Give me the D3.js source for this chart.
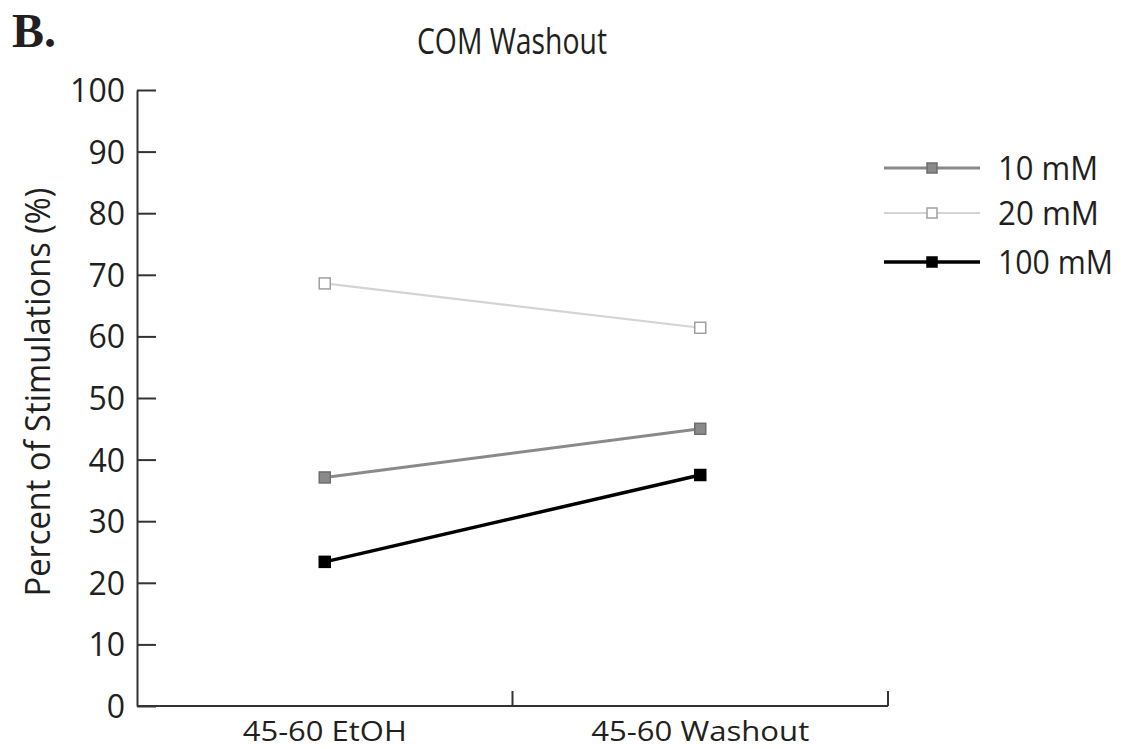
<!DOCTYPE html>
<html><head><meta charset="utf-8">
<script src="https://cdn.jsdelivr.net/npm/d3@7"></script>
<style>body{margin:0;background:#fff}svg{display:block}text{font-family:"Open Sans",sans-serif;fill:#231f20}</style>
</head><body>
<svg id="c" width="1122" height="749"></svg>
<script>
const categories = ["45-60 EtOH", "45-60 Washout"];
const seriesNames = ["10 mM", "20 mM", "100 mM"];
const values10 = [37.1, 45.0];
const values20 = [68.6, 61.4];
const values100 = [23.4, 37.5];
const yTicks = [0, 10, 20, 30, 40, 50, 60, 70, 80, 90, 100];

const styles = [
  {line:"#8a8a8a", fill:"#8a8a8a", stroke:"#6e6e6e", w:3},
  {line:"#d4d4d4", fill:"#ffffff", stroke:"#a0a0a0", w:2.2},
  {line:"#000000", fill:"#000000", stroke:"#000000", w:3.5}
];
const series = [values10, values20, values100];

const svg = d3.select("#c");
const x0 = 137, x1 = 888, yTop = 90, yBot = 706;
const x = d3.scalePoint().domain(categories).range([x0, x1]).padding(0.5);
const y = d3.scaleLinear().domain([0, 100]).range([yBot, yTop]);

// y axis
const ya = svg.append("g").attr("transform", `translate(${x0},0)`)
  .call(d3.axisLeft(y).tickValues(yTicks).tickSize(-19).tickPadding(12).tickSizeOuter(0));
ya.select(".domain").attr("stroke", "#333").attr("stroke-width", 2);
ya.selectAll(".tick line").attr("stroke", "#333").attr("stroke-width", 2);
ya.selectAll(".tick text").attr("font-size", 32).attr("font-family", "Open Sans").attr("fill", "#231f20").attr("dy", "0.36em");

// x axis
const xa = svg.append("g").attr("transform", `translate(0,${yBot})`);
xa.append("line").attr("x1", x0).attr("x2", x1).attr("stroke", "#333").attr("stroke-width", 2);
const bw = x.step();
const bounds = [x(categories[0]) + bw/2, x1];
xa.selectAll(".xt").data(bounds).join("line")
  .attr("x1", d => d).attr("x2", d => d).attr("y1", 0).attr("y2", -15)
  .attr("stroke", "#333").attr("stroke-width", 2);
const xLabelLen = [164, 218];
xa.selectAll(".xl").data(categories).join("text")
  .attr("x", d => x(d)).attr("y", 35).attr("text-anchor", "middle")
  .attr("font-size", 28)
  .attr("textLength", (d, i) => xLabelLen[i]).attr("lengthAdjust", "spacingAndGlyphs")
  .text(d => d);

// series
const line = d3.line().x((d, i) => x(categories[i])).y(d => y(d));
series.forEach((vals, si) => {
  const s = styles[si];
  svg.append("path").attr("d", line(vals)).attr("fill", "none")
    .attr("stroke", s.line).attr("stroke-width", s.w);
  svg.selectAll(null).data(vals).join("rect")
    .attr("x", (d, i) => x(categories[i]) - 5.5).attr("y", d => y(d) - 5.5)
    .attr("width", 11).attr("height", 11)
    .attr("fill", s.fill).attr("stroke", s.stroke).attr("stroke-width", 1.5);
});

// legend
const legY = [168, 213, 262];
const legLen = [100, 101, 115];
seriesNames.forEach((n, i) => {
  const s = styles[i];
  const g = svg.append("g").attr("transform", `translate(0,${legY[i]})`);
  g.append("line").attr("x1", 884).attr("x2", 980).attr("stroke", s.line).attr("stroke-width", s.w);
  g.append("rect").attr("x", 932 - 5).attr("y", -5).attr("width", 10).attr("height", 10)
    .attr("fill", s.fill).attr("stroke", s.stroke).attr("stroke-width", 1.5);
  g.append("text").attr("x", 998).attr("y", 0).attr("dy", "0.36em").attr("font-size", 32)
    .attr("textLength", legLen[i]).attr("lengthAdjust", "spacingAndGlyphs").text(n);
});

// titles
svg.append("text").attr("x", 512).attr("y", 54).attr("text-anchor", "middle").attr("font-size", 36)
  .attr("textLength", 190).attr("lengthAdjust", "spacingAndGlyphs").text("COM Washout");
svg.append("text").attr("transform", `translate(50,392) rotate(-90)`)
  .attr("text-anchor", "middle").attr("font-size", 34)
  .attr("textLength", 409).attr("lengthAdjust", "spacingAndGlyphs").text("Percent of Stimulations (%)");
svg.append("text").attr("x", 12).attr("y", 47)
  .style("font-family", "Liberation Serif").attr("font-weight", "bold").attr("font-size", 48).text("B.");
</script>
</body></html>
